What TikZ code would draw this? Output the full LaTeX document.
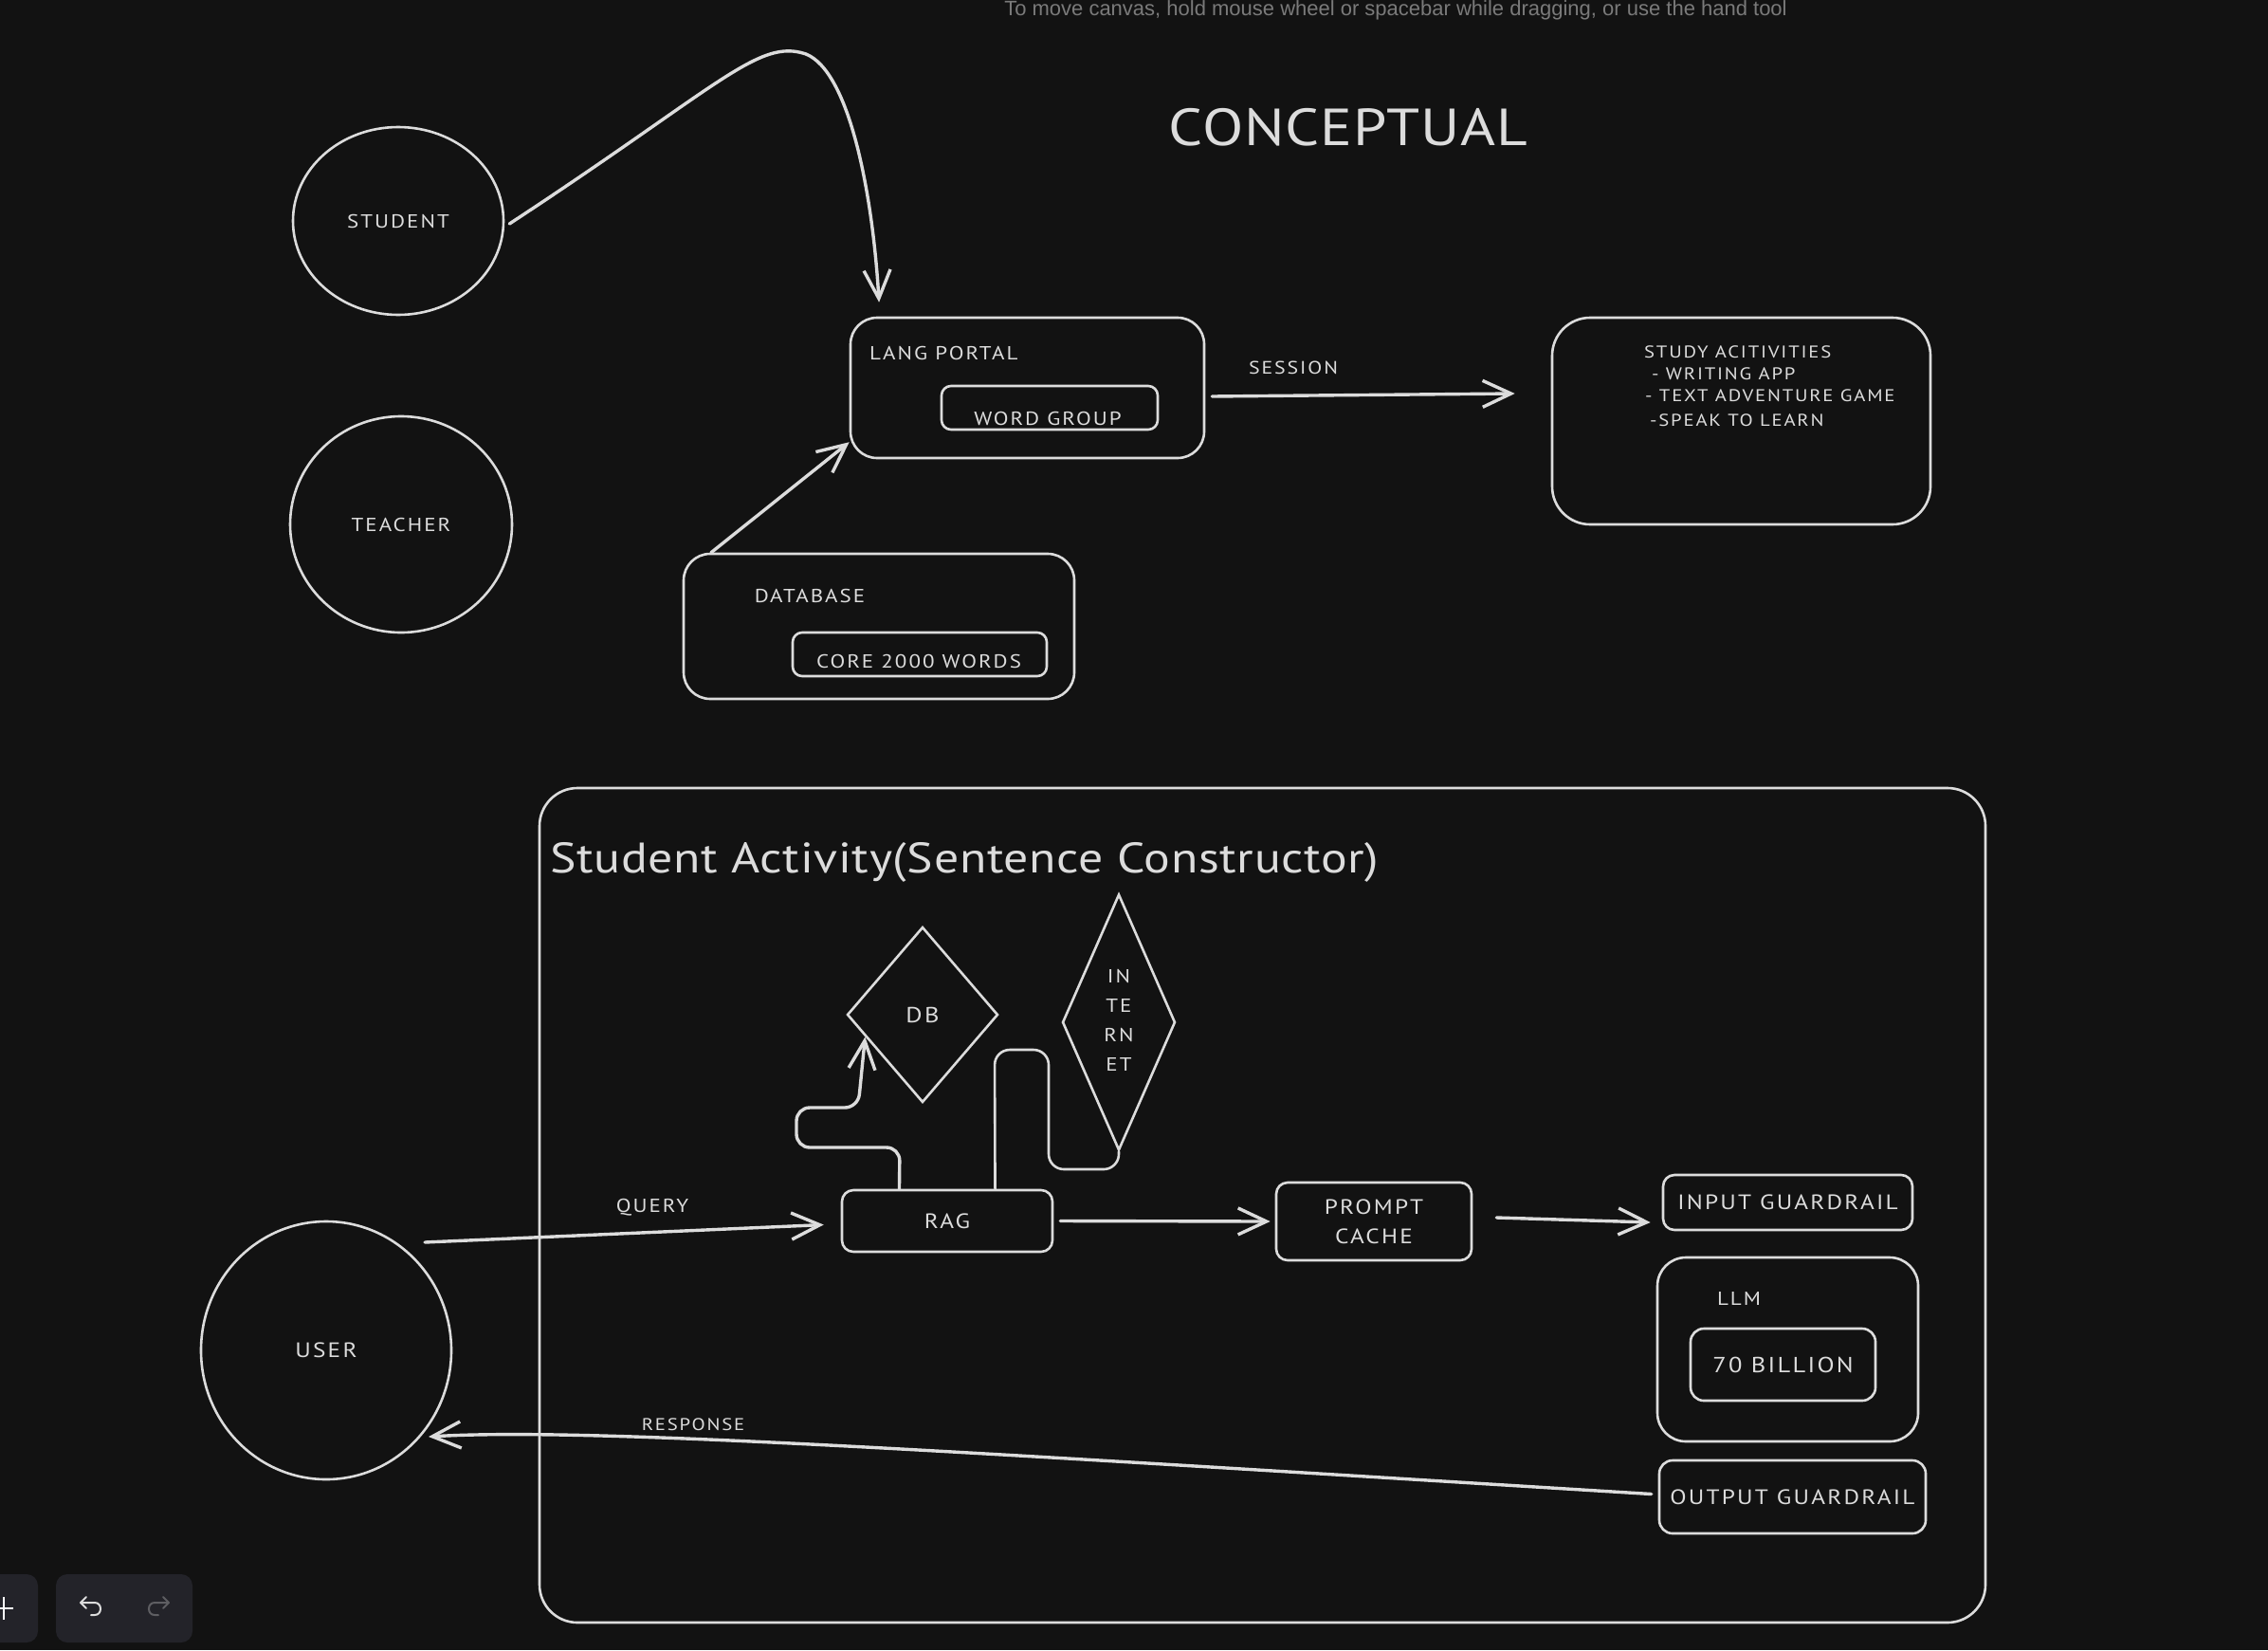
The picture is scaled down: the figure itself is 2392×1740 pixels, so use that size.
\documentclass[tikz,border=0pt]{standalone}
\usepackage{fontspec}
\setmainfont{PT Sans}
\newfontfamily\uifont{Liberation Sans}
\newfontfamily\hand[FakeStretch=1.15, LetterSpace=10]{PT Sans}
\newfontfamily\headfont[FakeStretch=1.15, LetterSpace=1.5]{PT Sans}
\usetikzlibrary{arrows.meta,calc,shapes.geometric}
\definecolor{bg}{HTML}{121212}
\definecolor{ink}{HTML}{DCDCDC}
\definecolor{hint}{HTML}{7A7A7A}
\definecolor{tbar}{HTML}{232329}
\definecolor{redogray}{HTML}{5E5E62}
\newcommand{\fsz}[1]{\fontsize{#1}{#1}\selectfont}
\begin{document}
\begin{tikzpicture}[x=1pt,y=-1pt,
  every node/.style={text=ink, inner sep=0pt},
  shapebox/.style={draw=ink, line width=2.6pt, rounded corners=#1},
  shapebox/.default=16pt,
  ring/.style={draw=ink, line width=2.6pt, ellipse},
  rhomb/.style={draw=ink, line width=2.6pt, diamond},
  arr/.style={draw=ink, line width=3.4pt, line cap=round, line join=round, -{Straight Barb[length=30pt,width=28pt]}},
  wire/.style={draw=ink, line width=2.6pt, line cap=round, line join=round, rounded corners=16pt},
]
\fill[bg] (0,0) rectangle (2392,1740);
\useasboundingbox (0,0) rectangle (2392,1740);

% hint
\node[font=\uifont\fsz{22}, text=hint, anchor=base] (hinttext) at (1472,16) {To move canvas, hold mouse wheel or spacebar while dragging, or use the hand tool};

% title
\node[font=\headfont\fsz{55}] (concept) at (1422,134) {CONCEPTUAL};

% actors
\node[ring, minimum width=222pt, minimum height=198pt, font=\hand\fsz{20}] (student) at (420,233) {STUDENT};
\node[ring, minimum width=234pt, minimum height=228pt, font=\hand\fsz{20}] (teacher) at (423,553) {TEACHER};

% lang portal
\node[shapebox=28pt, minimum width=373pt, minimum height=148pt] (lp) at (1083.5,409) {};
\node[font=\hand\fsz{20}, anchor=west] (lpt) at (917,372) {LANG PORTAL};
\node[shapebox=10pt, minimum width=228pt, minimum height=46pt] (wg) at (1107,430) {};
\node[font=\hand\fsz{20}] (wgt) at (1105,441) {WORD GROUP};

% database
\node[shapebox=28pt, minimum width=412pt, minimum height=153pt] (dbase) at (927,660.5) {};
\node[font=\hand\fsz{20}] (dbaset) at (854,628) {DATABASE};
\node[shapebox=10pt, minimum width=268pt, minimum height=46pt] (core) at (970,690) {};
\node[font=\hand\fsz{20}] (coret) at (969,697) {CORE 2000 WORDS};

% study activities
\node[shapebox=40pt, minimum width=399pt, minimum height=218pt] (study) at (1836.5,444) {};
\node[font=\hand\fsz{18}, anchor=west] (sa1) at (1734,371) {STUDY ACITIVITIES};
\node[font=\hand\fsz{18}, anchor=west] (sa2) at (1742,394) {- WRITING APP};
\node[font=\hand\fsz{18}, anchor=west] (sa3) at (1735,417) {- TEXT ADVENTURE GAME};
\node[font=\hand\fsz{18}, anchor=west] (sa4) at (1740,443) {-SPEAK TO LEARN};

% top connectors
\draw[arr, shorten >=15pt] (student.east) ++(5,3) coordinate (s0)
  .. controls (760,90) and (800,40) .. (850,57)
  .. controls (895,75) and (920,200) .. ($(lp.north west)!0.086!(lp.north east)$);
\draw[arr] ($(dbase.north west)!0.073!(dbase.north east)$) -- ($(lp.south west)!0.12!(lp.north west)$);
\draw[arr] ($(lp.east)+(7,9)$) -- ($(study.west)+(-38,-29)$);
\node[font=\hand\fsz{19}] (session) at (1364,388) {SESSION};

% lower container
\node[shapebox=40pt, minimum width=1525pt, minimum height=880pt] (cont) at (1331.5,1271) {};
\node[font=\headfont\fsz{45}, anchor=west] (contt) at (580,909) {Student Activity(Sentence Constructor)};

% diamonds
\node[rhomb, minimum width=159pt, minimum height=185pt, font=\hand\fsz{23}] (db) at (973,1070) {DB};
\node[rhomb, minimum width=119pt, minimum height=270pt] (inet) at (1180,1078) {};
\node[font=\hand\fontsize{20}{31}\selectfont, align=center] (inett) at (1180,1076) {IN\\TE\\RN\\ET};

% pipeline
\node[shapebox=12pt, minimum width=222pt, minimum height=65pt, font=\hand\fsz{22}] (rag) at (999,1287.5) {RAG};
\node[shapebox=12pt, minimum width=206pt, minimum height=82pt, font=\hand\fontsize{22}{31}\selectfont, align=center] (pc) at (1449,1288) {PROMPT\\CACHE};
\node[shapebox=12pt, minimum width=263pt, minimum height=58pt, font=\hand\fsz{22}] (ig) at (1885.5,1268) {INPUT GUARDRAIL};
\node[shapebox=30pt, minimum width=275pt, minimum height=194pt] (llm) at (1885.5,1423) {};
\node[font=\hand\fsz{20}] (llmt) at (1834,1369) {LLM};
\node[shapebox=14pt, minimum width=195pt, minimum height=76pt, font=\hand\fsz{23}] (bil) at (1880.5,1439) {70 BILLION};
\node[shapebox=14pt, minimum width=281pt, minimum height=77pt, font=\hand\fsz{22}] (og) at (1890.5,1578.5) {OUTPUT GUARDRAIL};

\node[ring, minimum width=264pt, minimum height=272pt, font=\hand\fsz{22}] (user) at (344,1424) {USER};

% RAG to DB / INTERNET
\draw[arr, rounded corners=14pt] ($(rag.north west)!0.275!(rag.north east)$) -- (949,1210) -- (840,1210) -- (840,1168) -- (905,1168) -- ($(db.west)!0.25!(db.south)$);
\draw[wire] ($(rag.north west)!0.725!(rag.north east)$) -- (1049,1107) -- (1106,1107) -- (1106,1233) -- (1180,1233) -- (inet.south);

% flow arrows
\draw[arr] ($(user.center)+(104,-114)$) -- ($(rag.west)+(-18,4)$);
\node[font=\hand\fsz{20}] (query) at (688,1273) {QUERY};
\draw[arr] ($(rag.east)+(7,0)$) -- ($(pc.west)+(-5,0)$);
\draw[arr] ($(pc.east)+(25,-4)$) -- ($(ig.west)+(-12,21)$);
\draw[arr] ($(og.west)+(-7,-3)$) .. controls (1000,1530) and (620,1505) .. ($(user.center)+(108,91)$);
\node[font=\hand\fsz{18}] (resp) at (731,1502) {RESPONSE};

% toolbar
\fill[tbar, rounded corners=12pt] (-30,1660) rectangle (40,1732);
\fill[tbar, rounded corners=12pt] (59,1660) rectangle (203,1732);
\draw[white, line width=2pt] (-8,1696) -- (14,1696);
\draw[white, line width=2pt] (4,1684) -- (4,1708);
\draw[ink, line width=2pt, line cap=round, line join=round] (91,1684) -- (85,1690) -- (91,1696);
\draw[ink, line width=2pt, line cap=round] (85,1690) -- (100,1690) .. controls (108,1690) and (108,1703) .. (100,1703) -- (96,1703);
\draw[redogray, line width=2pt, line cap=round, line join=round] (172,1684) -- (178,1690) -- (172,1696);
\draw[redogray, line width=2pt, line cap=round] (178,1690) -- (163,1690) .. controls (155,1690) and (155,1703) .. (163,1703) -- (167,1703);
\end{tikzpicture}
\end{document}
